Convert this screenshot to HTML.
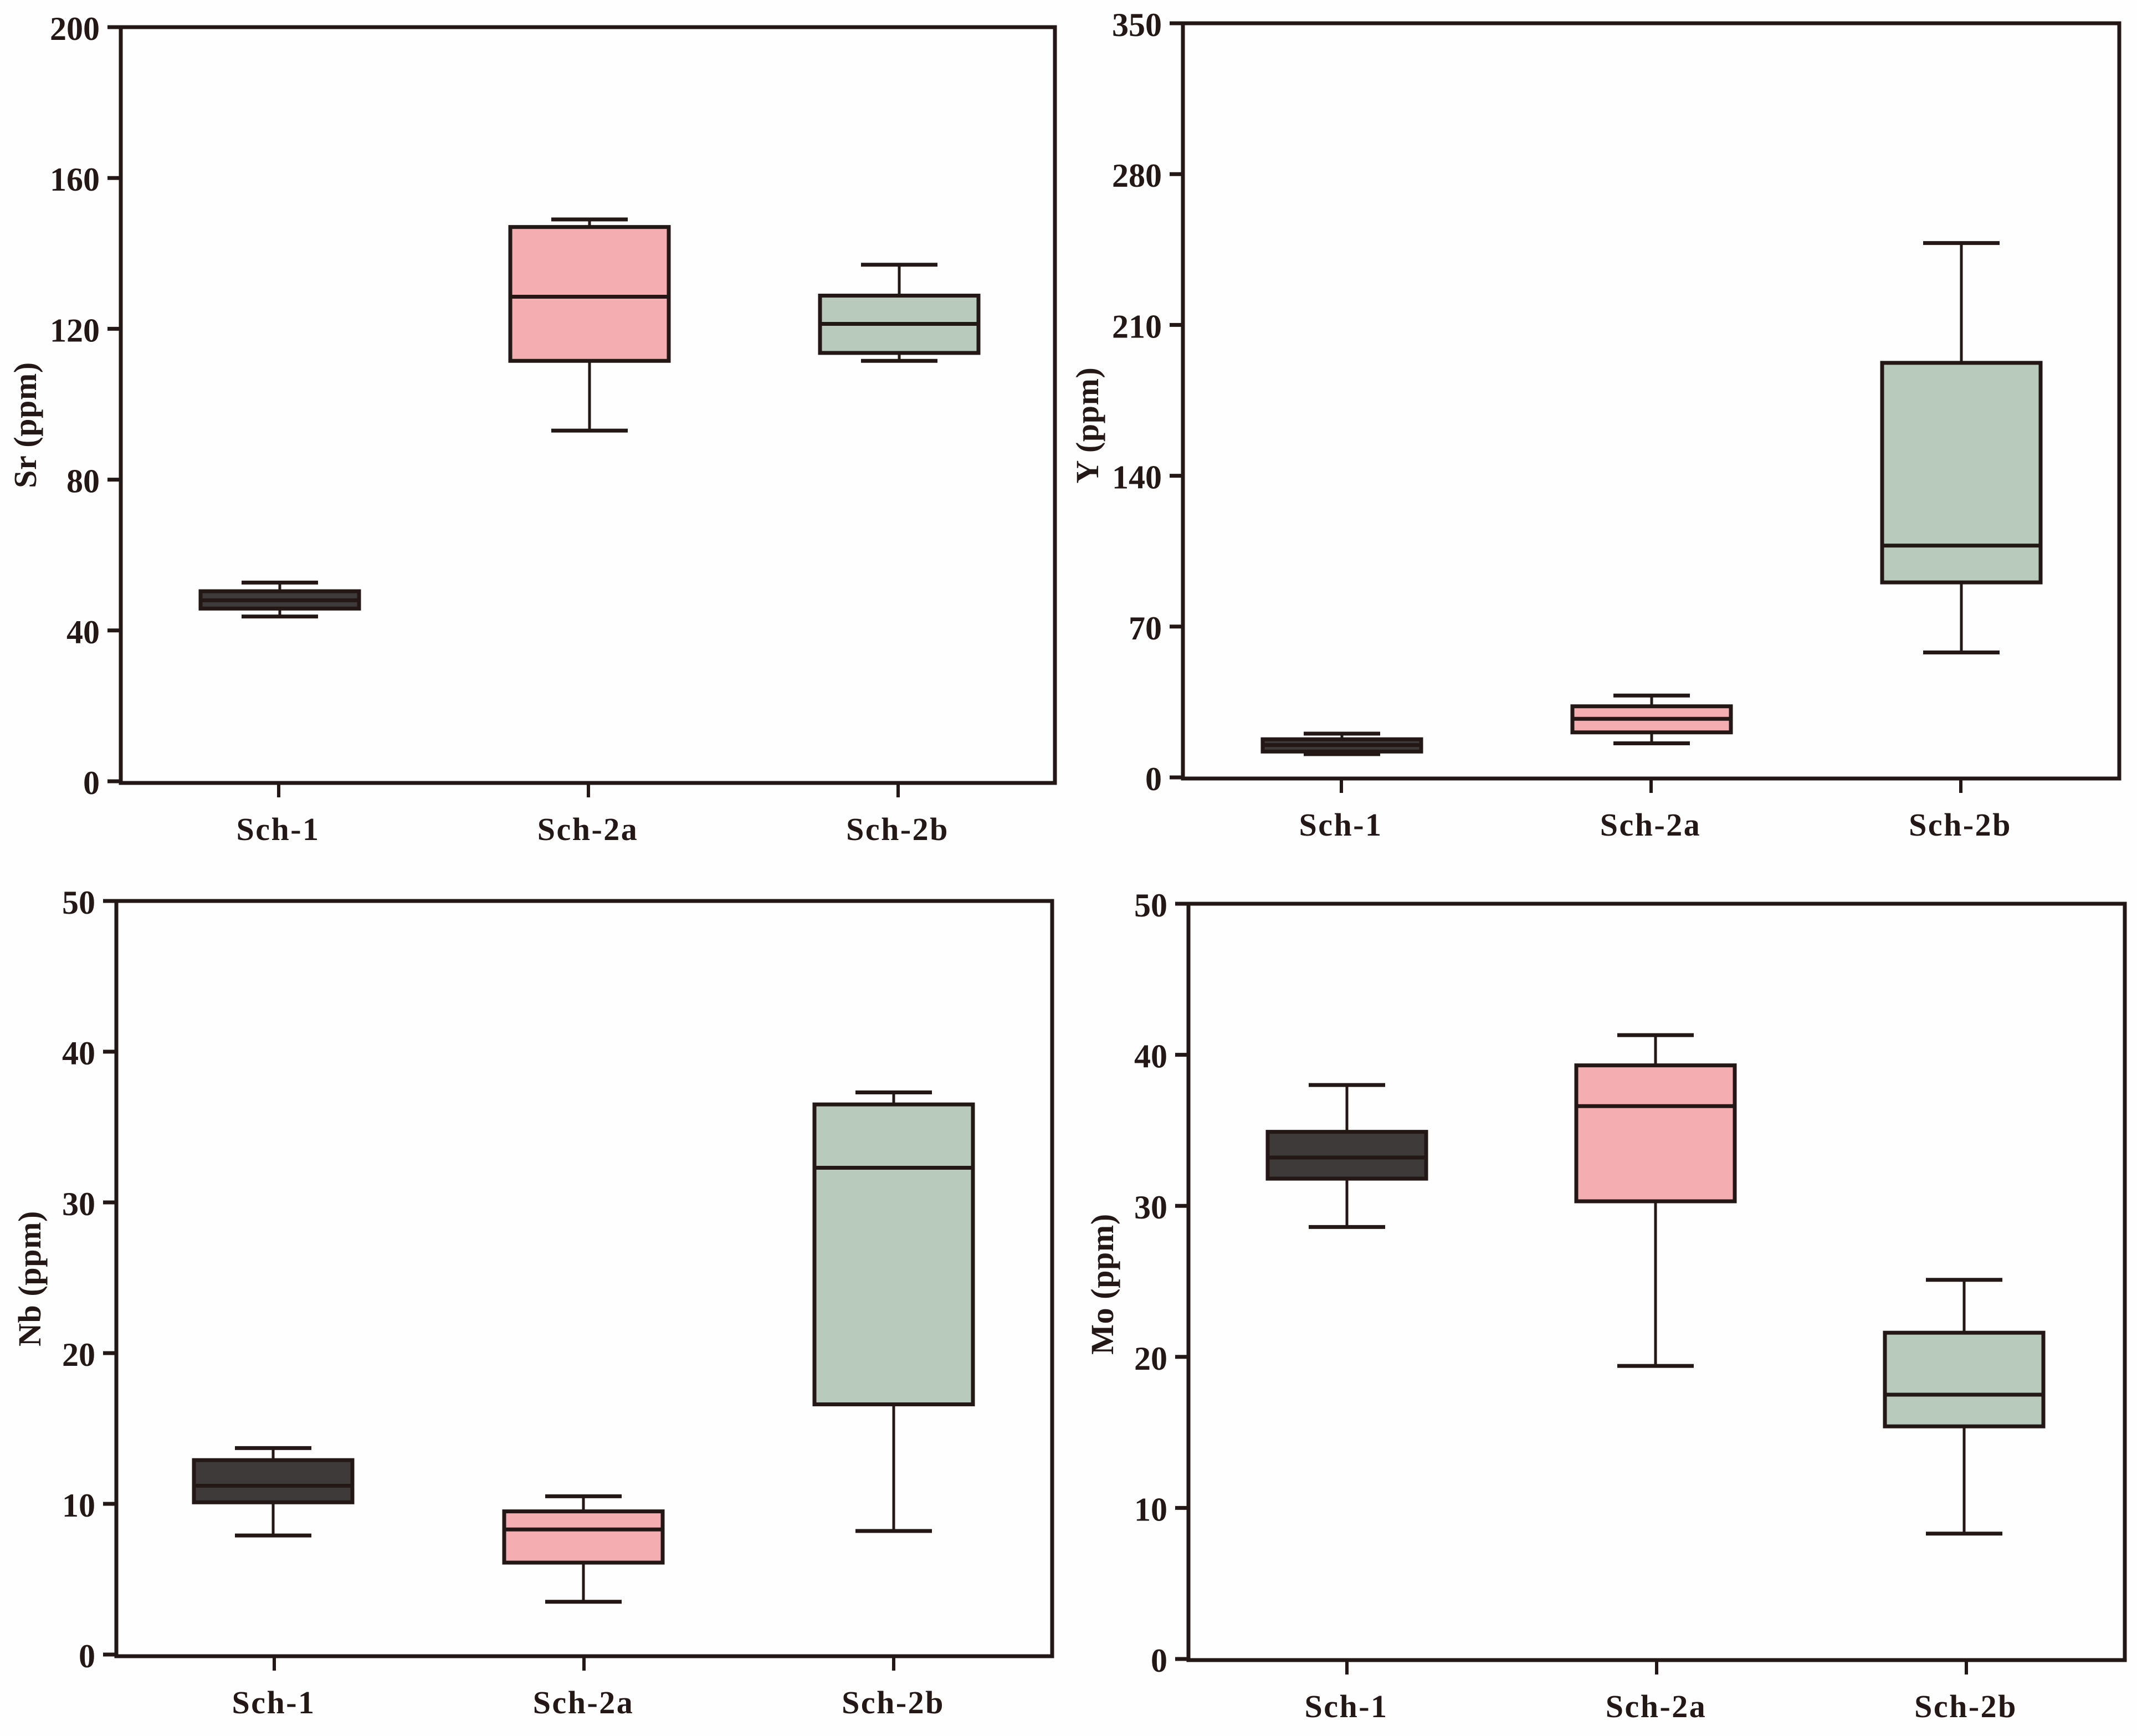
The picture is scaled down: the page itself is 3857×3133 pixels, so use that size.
<!DOCTYPE html>
<html>
<head>
<meta charset="utf-8">
<style>
html,body{margin:0;padding:0;background:#fefefe;}
svg{display:block;}
text{font-family:"Liberation Serif",serif;font-weight:bold;fill:#231815;}
</style>
</head>
<body>
<svg id="figure" xmlns="http://www.w3.org/2000/svg" width="3857" height="3133" viewBox="0 0 3857 3133"></svg>
<script>
const categories = ['Sch-1', 'Sch-2a', 'Sch-2b'];

const srTicks = [0, 40, 80, 120, 160, 200];
const srLow = [43.7, 93, 111.5];
const srQ1 = [45.8, 111.5, 113.6];
const srMedian = [48, 128.5, 121.3];
const srQ3 = [50.4, 147, 128.8];
const srHigh = [52.7, 149, 137];

const yTicks = [0, 70, 140, 210, 280, 350];
const yLow = [10.8, 15.8, 58];
const yQ1 = [12, 20.9, 90.5];
const yMedian = [15, 27.2, 107.6];
const yQ3 = [17.7, 33, 192.4];
const yHigh = [20.3, 38, 248];

const nbTicks = [0, 10, 20, 30, 40, 50];
const nbLow = [7.9, 3.5, 8.2];
const nbQ1 = [10.1, 6.1, 16.6];
const nbMedian = [11.2, 8.3, 32.3];
const nbQ3 = [12.9, 9.5, 36.5];
const nbHigh = [13.7, 10.5, 37.3];

const moTicks = [0, 10, 20, 30, 40, 50];
const moLow = [28.6, 19.4, 8.3];
const moQ1 = [31.8, 30.3, 15.4];
const moMedian = [33.2, 36.6, 17.5];
const moQ3 = [34.9, 39.3, 21.6];
const moHigh = [38, 41.3, 25.1];

const INK = '#231815';
const FILLS = ['#3e3a39', '#f4aeb1', '#b7cabb'];
const svg = document.getElementById('figure');
const NS = 'http://www.w3.org/2000/svg';

function make(tag, attrs, parent) {
  const el = document.createElementNS(NS, tag);
  for (const k in attrs) el.setAttribute(k, attrs[k]);
  parent.appendChild(el);
  return el;
}

function seg(parent, x1, y1, x2, y2, w, name) {
  const el = make('line', {x1: x1, y1: y1, x2: x2, y2: y2, stroke: INK, 'stroke-width': w}, parent);
  
  
  return el;
}

function drawPanel(id, title, frame, ticks, low, q1, median, q3, high) {
  const g = make('g', {}, svg);
  
  

  const yMax = ticks[ticks.length - 1];
  const yScale = v => frame.y0 - (v / yMax) * (frame.y0 - frame.top);
  const xScale = i => frame.cx0 + i * frame.step;
  const boxScale = i => frame.boxX0 + i * frame.boxStep;

  const plot = make('rect', {x: frame.left, y: frame.top, width: frame.right - frame.left, height: frame.bottom - frame.top, fill: 'none', stroke: INK, 'stroke-width': 7}, g);
  
  

  ticks.forEach(t => {
    const y = yScale(t);
    seg(g, frame.left - 24, y, frame.left, y, 7, id + '-y-tick');
    const label = make('text', {x: frame.left - 38, y: y + 23, 'text-anchor': 'end', 'font-size': 60}, g);
    label.textContent = t;
    
    
  });

  categories.forEach((c, i) => {
    const x = xScale(i);
    const bx = boxScale(i);
    seg(g, x, frame.bottom, x, frame.bottom + 26, 6, id + '-x-tick');
    const label = make('text', {x: x - 1, y: frame.bottom + 103, 'text-anchor': 'middle', 'font-size': 58, 'letter-spacing': 2.5}, g);
    label.textContent = c;
    
    

    const box = make('g', {}, g);
    
    
    seg(box, bx, yScale(high[i]), bx, yScale(q3[i]), 5, id + '-upper-whisker');
    seg(box, bx, yScale(q1[i]), bx, yScale(low[i]), 5, id + '-lower-whisker');
    seg(box, bx - 69, yScale(high[i]), bx + 69, yScale(high[i]), 7, id + '-upper-cap');
    seg(box, bx - 69, yScale(low[i]), bx + 69, yScale(low[i]), 7, id + '-lower-cap');
    const rect = make('rect', {x: bx - 143, y: yScale(q3[i]), width: 286, height: yScale(q1[i]) - yScale(q3[i]), fill: FILLS[i], stroke: INK, 'stroke-width': 7}, box);
    
    
    seg(box, bx - 143, yScale(median[i]), bx + 143, yScale(median[i]), 7, id + '-median-line');
  });

  const cy = (frame.top + frame.bottom) / 2 + frame.titleShift;
  const t = make('text', {x: frame.titleX, y: cy, 'text-anchor': 'middle', 'font-size': 58, 'letter-spacing': 0.6, transform: 'rotate(-90 ' + frame.titleX + ' ' + cy + ')'}, g);
  t.textContent = title;
  
  
}

drawPanel('sr', 'Sr (ppm)', {left: 218, right: 1904, top: 49, bottom: 1413, y0: 1410, cx0: 503, step: 559, boxX0: 505, boxStep: 559, titleX: 65, titleShift: 36}, srTicks, srLow, srQ1, srMedian, srQ3, srHigh);
drawPanel('y', 'Y (ppm)', {left: 2135, right: 3825, top: 42, bottom: 1405, y0: 1403, cx0: 2421, step: 559, boxX0: 2422, boxStep: 559, titleX: 1982, titleShift: 44}, yTicks, yLow, yQ1, yMedian, yQ3, yHigh);
drawPanel('nb', 'Nb (ppm)', {left: 210, right: 1899, top: 1626, bottom: 2989, y0: 2986, cx0: 495, step: 559, boxX0: 493, boxStep: 560, titleX: 73, titleShift: 0}, nbTicks, nbLow, nbQ1, nbMedian, nbQ3, nbHigh);
drawPanel('mo', 'Mo (ppm)', {left: 2145, right: 3835, top: 1631, bottom: 2996, y0: 2994, cx0: 2431, step: 559, boxX0: 2431, boxStep: 557, titleX: 2009, titleShift: 4}, moTicks, moLow, moQ1, moMedian, moQ3, moHigh);
</script>
</body>
</html>
